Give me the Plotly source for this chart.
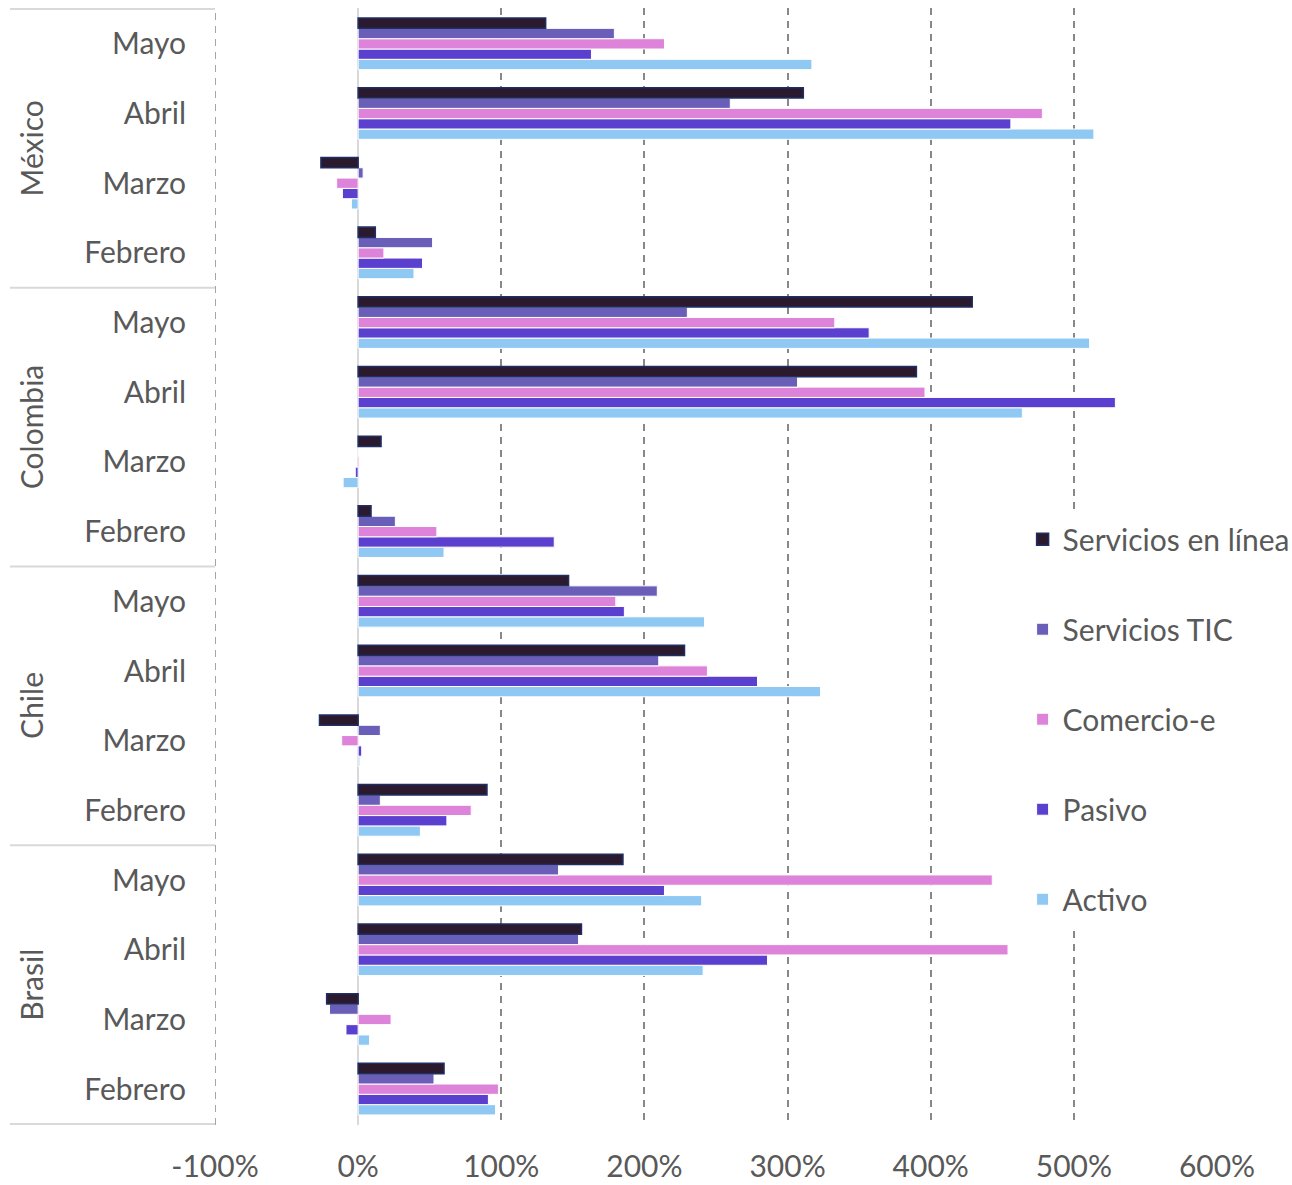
import plotly.graph_objects as go

# Categories (bottom to top on the axis)
countries = ["Brasil", "Chile", "Colombia", "México"]
months = ["Febrero", "Marzo", "Abril", "Mayo"]

# Growth values (%) per country, ordered Febrero, Marzo, Abril, Mayo
linea = {
    "Brasil": [60, -22, 156, 185],
    "Chile": [90, -27, 228, 147],
    "Colombia": [9, 16, 390, 429],
    "México": [12, -26, 311, 131],
}
tic = {
    "Brasil": [53, -20, 154, 140],
    "Chile": [15.5, 15.5, 210, 209],
    "Colombia": [26, 0, 307, 230],
    "México": [52, 3.5, 260, 179],
}
comercio = {
    "Brasil": [98, 23, 454, 443],
    "Chile": [79, -11.5, 244, 180],
    "Colombia": [55, 1, 396, 333],
    "México": [18, -15, 478, 214],
}
pasivo = {
    "Brasil": [91, -8.5, 286, 214],
    "Chile": [62, 2.5, 279, 186],
    "Colombia": [137, -2, 529, 357],
    "México": [45, -11, 456, 163],
}
activo = {
    "Brasil": [96, 8, 241, 240],
    "Chile": [43.5, 1.2, 323, 242],
    "Colombia": [60, -10.5, 464, 511],
    "México": [39, -4.7, 514, 317],
}

x_ticks = [-100, 0, 100, 200, 300, 400, 500, 600]
x_tick_text = ["-100%", "0%", "100%", "200%", "300%", "400%", "500%", "600%"]

cat_keys = [f"{c}|{m}" for c in countries for m in months]
month_text = [m for c in countries for m in months]


def flat(d):
    return [v for c in countries for v in d[c]]


# Traces added bottom-up so "Servicios en línea" sits on top of each group;
# legendrank puts it first in the legend as well
series = [
    ("Activo", activo, "#8fc8f3", "white", 1, 5),
    ("Pasivo", pasivo, "#5b3fcf", "white", 1, 4),
    ("Comercio-e", comercio, "#dd83d9", "white", 1, 3),
    ("Servicios TIC", tic, "#6a5fb8", "white", 1, 2),
    ("Servicios en línea", linea, "#2b1a2e", "#1f2f66", 1.5, 1),
]

fig = go.Figure()
for name, data, color, lcolor, lw, rank in series:
    fig.add_trace(go.Bar(
        y=cat_keys, x=flat(data), name=name, orientation="h",
        legendgroup=name, legendrank=rank,
        marker=dict(color=color, line=dict(color=lcolor, width=lw)),
    ))

text_color = "#595959"
font_family = "Lato"
fs = 30

fig.update_layout(
    width=1292, height=1185,
    margin=dict(l=215, r=75, t=8, b=60, autoexpand=False),
    barmode="group", bargap=0.26, bargroupgap=0,
    plot_bgcolor="white", paper_bgcolor="white",
    font=dict(family=font_family, size=fs, color=text_color),
    showlegend=True,
    legend=dict(
        x=0.806, y=0.5477, xanchor="left", yanchor="top",
        traceorder="grouped", tracegroupgap=48,
        bgcolor="white", font=dict(size=fs, color=text_color),
    ),
)

fig.update_xaxes(
    range=[x_ticks[0], x_ticks[-1]], automargin=False,
    tickmode="array", tickvals=x_ticks, ticktext=x_tick_text,
    showgrid=True, gridcolor="#888888", gridwidth=1.5, griddash="7px,6px",
    zeroline=True, zerolinecolor="#d9d9d9", zerolinewidth=2,
    showline=False, ticks="", ticklabelstandoff=21,
    tickfont=dict(size=fs, color=text_color),
)

fig.update_yaxes(
    type="category", categoryorder="array", categoryarray=cat_keys,
    automargin=False,
    tickmode="array", tickvals=cat_keys, ticktext=month_text,
    showgrid=False, zeroline=False, showline=False, ticks="",
    ticklabelstandoff=28,
    tickfont=dict(size=fs, color=text_color),
)

# Group dividers in the label column
n_m = len(months)
for i in range(len(countries) + 1):
    yb = i * n_m - 0.5
    fig.add_shape(type="line", xref="paper", yref="y",
                  x0=-0.2046, x1=0, y0=yb, y1=yb,
                  line=dict(color="#d9d9d9", width=2), layer="below")

# Left edge dashed line at the axis minimum
fig.add_shape(type="line", xref="x", yref="paper",
              x0=x_ticks[0], x1=x_ticks[0], y0=0, y1=1,
              line=dict(color="#888888", width=1.5, dash="7px,6px"), layer="below")

# Rotated country labels
for i, c in enumerate(countries):
    fig.add_annotation(
        text=c, xref="paper", yref="y",
        x=-0.1836, y=i * n_m + (n_m - 1) / 2,
        textangle=-90, showarrow=False,
        font=dict(size=fs, color=text_color, family=font_family),
        xanchor="center", yanchor="middle",
    )

fig.write_html("out.html")
